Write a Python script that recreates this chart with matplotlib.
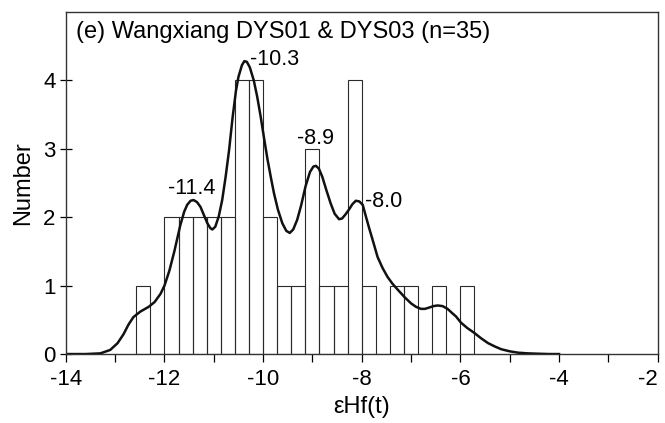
import numpy as np
import matplotlib
matplotlib.use("Agg")
import matplotlib.pyplot as plt

plt.rcParams['font.family'] = ['Liberation Sans', 'DejaVu Sans']
plt.rcParams['axes.unicode_minus'] = False

# Istogramma: bordo sinistro del primo intervallo, ampiezza e conteggi
bin_start = -12 - 4 / 7
bin_width = 2 / 7
counts = [1, 0, 2, 2, 2, 2, 2, 4, 4, 2, 1, 1,
          3, 1, 1, 4, 1, 0, 1, 1, 0, 1, 0, 1]

# Curva di densità (valore εHf, numero)
curve_x = [-14.0, -13.6, -13.3, -13.1, -12.95, -12.83, -12.73, -12.63, -12.49,
           -12.32, -12.2, -12.08, -12.0, -11.9, -11.8, -11.68, -11.6, -11.54,
           -11.47, -11.41, -11.34, -11.27, -11.2, -11.13, -11.07, -11.03,
           -10.97, -10.9, -10.83, -10.76, -10.69, -10.62, -10.55, -10.5,
           -10.43, -10.38, -10.33, -10.27, -10.19, -10.12, -10.05, -9.98,
           -9.91, -9.84, -9.78, -9.7, -9.61, -9.53, -9.46, -9.39, -9.31,
           -9.23, -9.14, -9.05, -8.98, -8.93, -8.87, -8.8, -8.72, -8.63,
           -8.55, -8.46, -8.4, -8.33, -8.26, -8.19, -8.12, -8.05, -7.98,
           -7.92, -7.85, -7.76, -7.68, -7.58, -7.48, -7.38, -7.27, -7.13,
           -7.0, -6.9, -6.8, -6.72, -6.63, -6.55, -6.46, -6.36, -6.26, -6.17,
           -6.09, -5.99, -5.86, -5.72, -5.58, -5.44, -5.3, -5.17, -5.0,
           -4.83, -4.63, -4.43, -4.2, -4.0]
curve_y = [0.0, 0.0, 0.01, 0.06, 0.16, 0.29, 0.43, 0.54, 0.62,
           0.69, 0.76, 0.88, 1.0, 1.22, 1.5, 1.88, 2.08, 2.18,
           2.24, 2.25, 2.22, 2.15, 2.03, 1.91, 1.84, 1.82,
           1.86, 2.01, 2.25, 2.59, 2.98, 3.45, 3.85, 4.05,
           4.22, 4.28, 4.27, 4.19, 4.0, 3.76, 3.47, 3.15,
           2.84, 2.57, 2.35, 2.11, 1.91, 1.8, 1.77, 1.82, 1.96,
           2.17, 2.45, 2.66, 2.74, 2.75, 2.71, 2.59, 2.4, 2.2,
           2.05, 1.97, 1.98, 2.04, 2.11, 2.19, 2.24, 2.23, 2.18,
           2.02, 1.84, 1.62, 1.42, 1.26, 1.13, 1.03, 0.94, 0.83,
           0.74, 0.69, 0.66, 0.66, 0.68, 0.7, 0.71, 0.7, 0.66, 0.6,
           0.55, 0.46, 0.38, 0.31, 0.23, 0.16, 0.11, 0.07, 0.04,
           0.02, 0.01, 0.005, 0.0, 0.0]

# Etichette dei picchi
peak_labels = ["-11.4", "-10.3", "-8.9", "-8.0"]

fig, ax = plt.subplots(figsize=(6.65, 4.23), dpi=100)
fig.subplots_adjust(left=0.099, right=0.989, top=0.972, bottom=0.163)

lefts = bin_start + bin_width * np.arange(len(counts))
ax.bar(lefts, counts, width=bin_width, align="edge", fill=False,
       edgecolor="#2a2a2a", linewidth=0.8)
ax.plot(curve_x, curve_y, color="#111111", linewidth=1.8)

ax.text(-11.45, 2.42, peak_labels[0], ha="center", va="center", fontsize=15.5)
ax.text(-10.27, 4.3, peak_labels[1], ha="left", va="center", fontsize=15.5)
ax.text(-8.93, 3.15, peak_labels[2], ha="center", va="center", fontsize=15.5)
ax.text(-7.94, 2.23, peak_labels[3], ha="left", va="center", fontsize=15.5)

ax.text(0.017, 0.94, "(e) Wangxiang DYS01 & DYS03 (n=35)", transform=ax.transAxes,
        ha="left", va="center", fontsize=17)

ax.set_xlim(-14, -2)
ax.set_ylim(0, 5)
ax.set_xticks(np.arange(-14, -1, 2))
ax.set_xticks(np.arange(-13, -2, 2), minor=True)
ax.set_yticks([0, 1, 2, 3, 4])
ax.tick_params(axis="x", which="both", direction="out", length=6, width=0.9,
               labelsize=16, pad=5)
ax.tick_params(axis="y", direction="inout", length=8, width=0.9, labelsize=16)

# ultima etichetta dell'asse x allineata a destra per non uscire dal bordo
ax.get_xticklabels()[-1].set_ha("right")

ax.set_xlabel("εHf(t)", fontsize=17, labelpad=4)
ax.set_ylabel("Number", fontsize=17, labelpad=6)

for s in ax.spines.values():
    s.set_linewidth(1.0)
    s.set_color("#333333")

plt.savefig("out.png", dpi=100)
